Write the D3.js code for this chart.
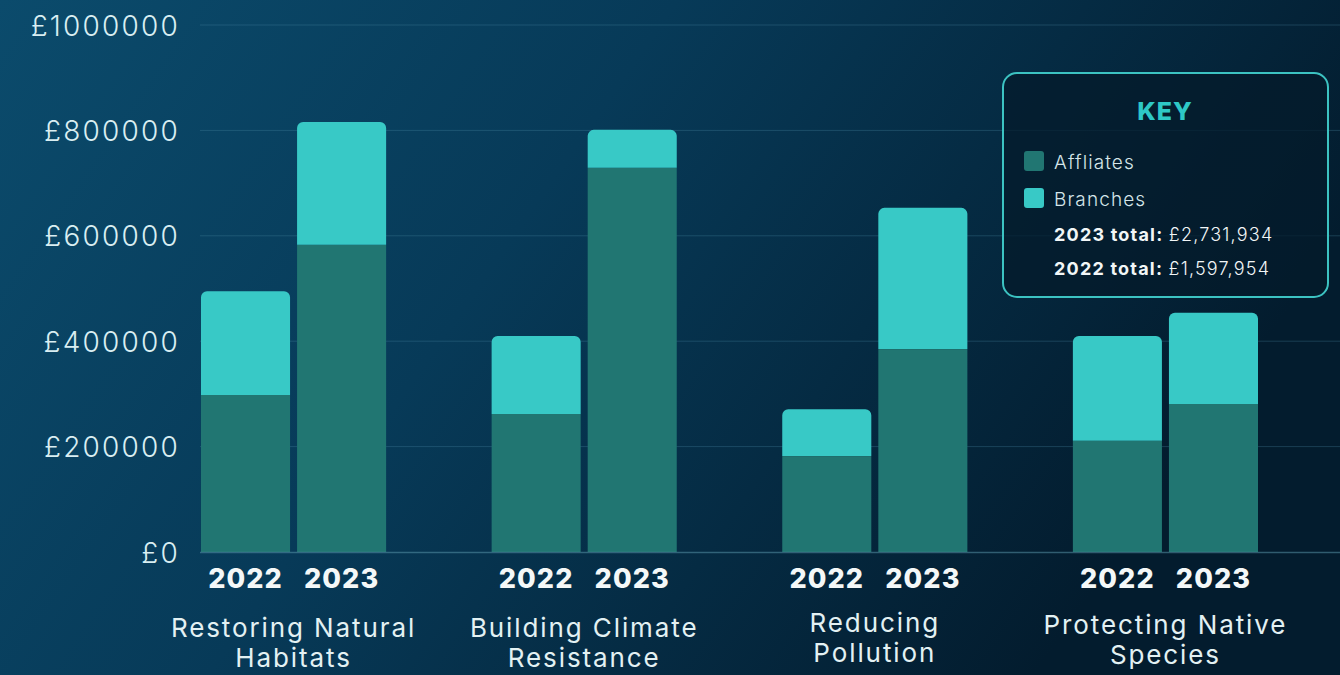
<!DOCTYPE html>
<html><head><meta charset="utf-8">
<script src="https://cdn.jsdelivr.net/npm/d3@7"></script>
<style>
html,body{margin:0;padding:0;background:#06324d;}
svg{display:block;}
</style></head>
<body>
<svg id="chart" width="1340" height="675"></svg>
<script>
const categories = [["Restoring Natural","Habitats"],["Building Climate","Resistance"],["Reducing","Pollution"],["Protecting Native","Species"]];
const years = ["2022","2023"];
const affiliates2022 = [298000, 262000, 182000, 211000];
const branches2022   = [197000, 148000,  89000, 199000];
const affiliates2023 = [583000, 729000, 385000, 281000];
const branches2023   = [233000,  72000, 268000, 173000];
const yTicks = [0, 200000, 400000, 600000, 800000, 1000000];
const legendItems = ["Affliates","Branches"];
const totals = [["2023 total:","£2,731,934"],["2022 total:","£1,597,954"]];

const W = 1340, H = 675;
const FONT = "Inter, 'Open Sans', sans-serif";
const svg = d3.select("#chart");
const defs = svg.append("defs");
const bg = defs.append("linearGradient").attr("id","bg").attr("x1","0").attr("y1","0").attr("x2","1").attr("y2","0.35");
bg.append("stop").attr("offset","0").attr("stop-color","#0b4b6c");
bg.append("stop").attr("offset","0.45").attr("stop-color","#073a58");
bg.append("stop").attr("offset","1").attr("stop-color","#031c2e");
svg.append("rect").attr("width",W).attr("height",H).attr("fill","url(#bg)");

const catKeys = categories.map(c => c.join(" "));
const x0 = d3.scaleBand().domain(catKeys).range([201, 1258]).paddingInner(0.363).paddingOuter(0);
const x1 = d3.scaleBand().domain(years).range([0, x0.bandwidth()]).paddingInner(0.073);
const y = d3.scaleLinear().domain([0, 1000000]).range([552, 25]);

// grid
const grid = svg.append("g");
grid.selectAll("line").data(yTicks.filter(d => d > 0)).join("line")
  .attr("x1", 200).attr("x2", W)
  .attr("y1", d => y(d)).attr("y2", d => y(d))
  .attr("stroke", "#4f8faa").attr("stroke-opacity", 0.3).attr("stroke-width", 1);

// y axis labels
const yAxis = d3.axisLeft(y).tickValues(yTicks).tickSize(0).tickPadding(0).tickFormat(d => "£" + d);
const ya = svg.append("g").attr("transform","translate(180,0)").call(yAxis);
ya.select(".domain").remove();
ya.selectAll("text").attr("fill","#d9eef2").attr("font-family",FONT)
  .attr("font-weight",300).attr("font-size",28).attr("letter-spacing",2.2).attr("dy","0.36em");

// data rows
const rows = [];
categories.forEach((c, i) => {
  rows.push({cat: catKeys[i], year: "2022", aff: affiliates2022[i], br: branches2022[i]});
  rows.push({cat: catKeys[i], year: "2023", aff: affiliates2023[i], br: branches2023[i]});
});

function topRounded(x, yTop, w, h, r) {
  const p = d3.path();
  p.moveTo(x, yTop + h);
  p.lineTo(x, yTop + r);
  p.arcTo(x, yTop, x + r, yTop, r);
  p.lineTo(x + w - r, yTop);
  p.arcTo(x + w, yTop, x + w, yTop + r, r);
  p.lineTo(x + w, yTop + h);
  p.closePath();
  return p.toString();
}

const bars = svg.append("g");
rows.forEach(d => {
  const bx = x0(d.cat) + x1(d.year), bw = x1.bandwidth();
  bars.append("rect").attr("x", bx).attr("width", bw)
    .attr("y", y(d.aff)).attr("height", y(0) - y(d.aff)).attr("fill", "#217672");
  bars.append("path").attr("d", topRounded(bx, y(d.aff + d.br), bw, y(d.aff) - y(d.aff + d.br), 6))
    .attr("fill", "#38c9c6");
});

// baseline
svg.append("line").attr("x1",200).attr("x2",W).attr("y1",y(0)+0.5).attr("y2",y(0)+0.5)
  .attr("stroke","#5d9bb0").attr("stroke-opacity",0.5).attr("stroke-width",1.5);

// year labels
const yl = svg.append("g");
rows.forEach(d => {
  yl.append("text").attr("x", x0(d.cat) + x1(d.year) + x1.bandwidth()/2).attr("y", 578)
    .attr("dy","0.36em").attr("text-anchor","middle").attr("fill","#f4f8f8")
    .attr("font-family",FONT).attr("font-weight",800).attr("font-size",27).attr("letter-spacing",1.1)
    .text(d.year);
});

// category labels
const cl = svg.append("g");
categories.forEach((c, i) => {
  const t = cl.append("text").attr("text-anchor","middle").attr("fill","#e3f1f3")
    .attr("font-family",FONT).attr("font-weight",400).attr("font-size",26).attr("letter-spacing",1.9);
  const cx = x0(catKeys[i]) + x0.bandwidth()/2;
  const yy = i === 2 ? 623 : (i === 3 ? 625 : 628);
  c.forEach((line, j) => {
    t.append("tspan").attr("x", cx).attr("y", yy + j*30).attr("dy","0.36em").text(line);
  });
});

// legend
const lg = svg.append("g");
lg.append("rect").attr("x",1003).attr("y",73).attr("width",325).attr("height",224).attr("rx",14)
  .attr("fill","#041b2b").attr("fill-opacity",0.75).attr("stroke","#3cc3c2").attr("stroke-width",2);
lg.append("text").attr("x",1165).attr("y",111).attr("dy","0.36em").attr("text-anchor","middle")
  .attr("fill","#2ec8c6").attr("font-family",FONT).attr("font-weight",800)
  .attr("font-size",25).attr("letter-spacing",1).text("KEY");
const legColors = ["#217672","#38c9c6"];
legendItems.forEach((name, i) => {
  const yy = 161 + i*37;
  lg.append("rect").attr("x",1024).attr("y",yy-10).attr("width",20).attr("height",20).attr("rx",3)
    .attr("fill",legColors[i]);
  lg.append("text").attr("x",1054).attr("y",yy+1).attr("dy","0.36em").attr("fill","#d6e6ea")
    .attr("font-family",FONT).attr("font-weight",300).attr("font-size",19).attr("letter-spacing",1.1).text(name);
});
totals.forEach((t, i) => {
  const yy = 235 + i*34;
  const tx = lg.append("text").attr("x",1054).attr("y",yy).attr("dy","0.36em").attr("fill","#f2f6f7")
    .attr("font-family",FONT).attr("font-size",18).attr("letter-spacing",1.2);
  tx.append("tspan").attr("font-weight",700).text(t[0] + " ");
  tx.append("tspan").attr("font-weight",300).text(t[1]);
});
</script>
</body></html>
